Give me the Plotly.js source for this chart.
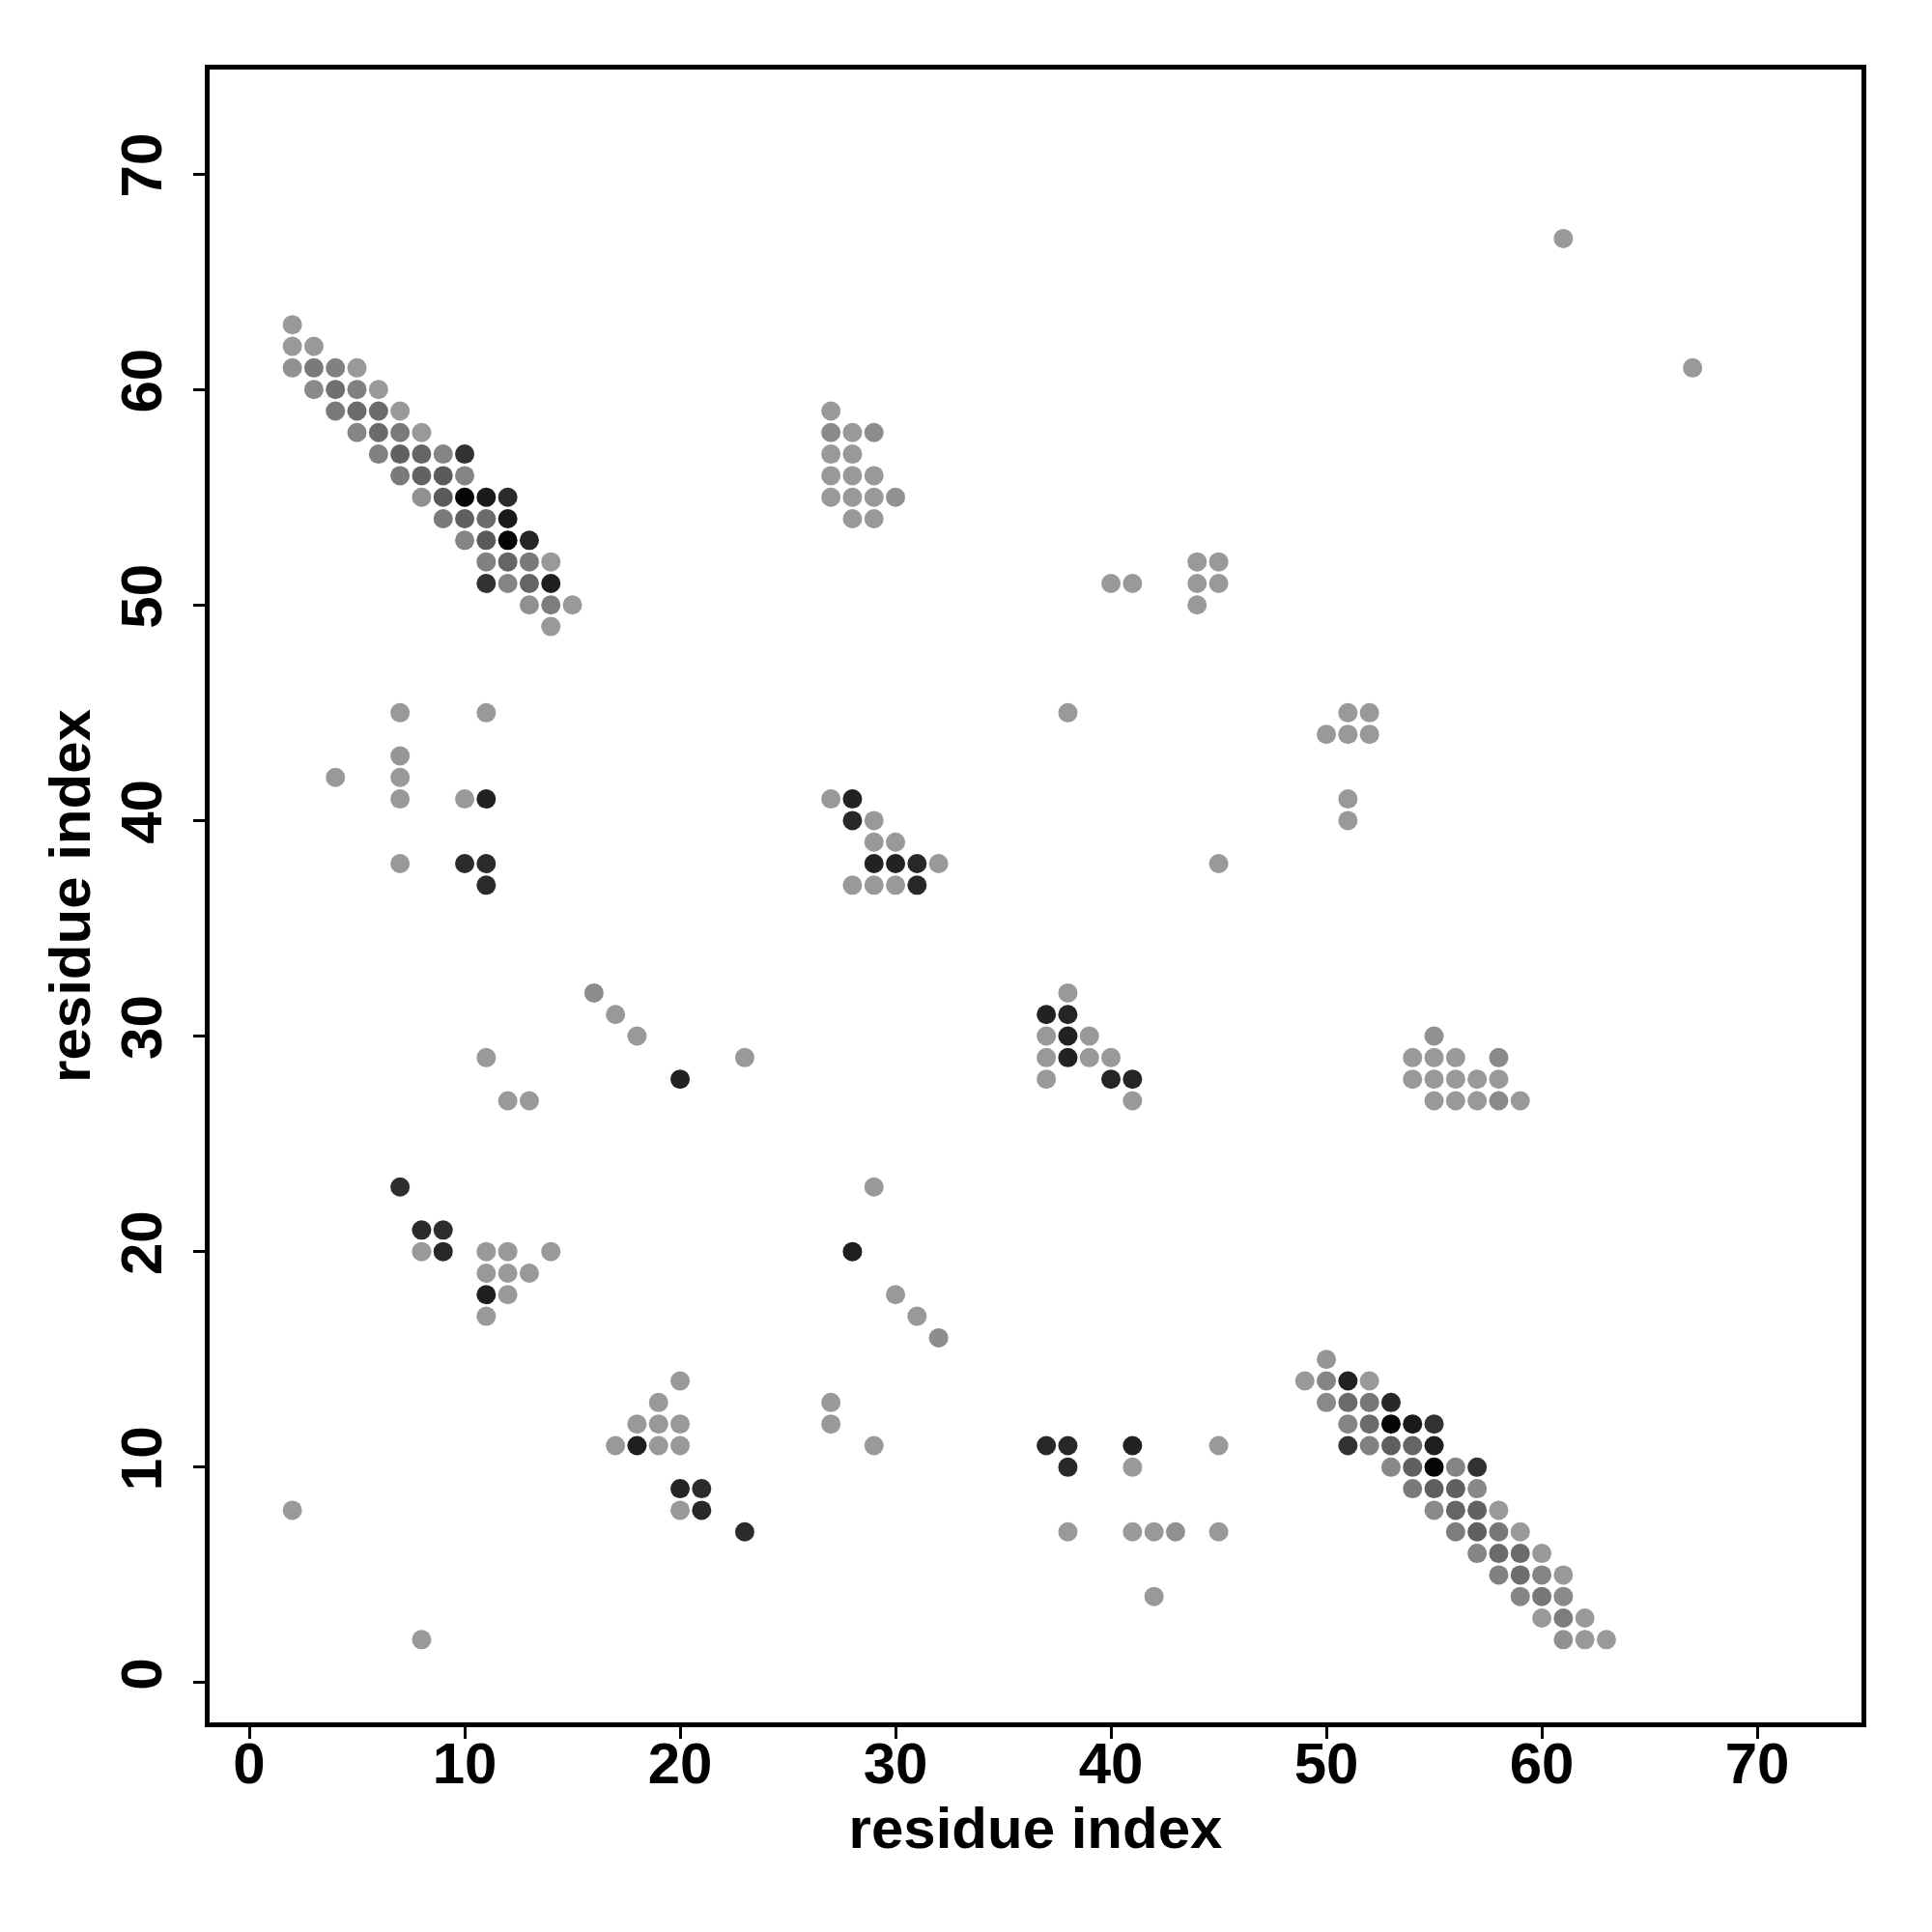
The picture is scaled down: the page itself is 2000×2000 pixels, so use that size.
<!DOCTYPE html>
<html>
<head>
<meta charset="utf-8">
<script src="https://cdn.plot.ly/plotly-3.0.1.min.js"></script>
<style>html,body{margin:0;padding:0;background:#fff;}</style>
</head>
<body>
<div id="chart" style="width:2000px;height:2000px;"></div>
<script>
// residue i (x), residue j (y), contact strength (0 = weak/light grey, 1 = strongest/black)
const resI = [
  // upper-left diagonal band
  2, 2,3, 2,3,4,5, 3,4,5,6, 4,5,6,7, 5,6,7,8, 6,7,8,9,10, 7,8,9,10, 8,9,10,11,12, 9,10,11,12, 10,11,12,13, 11,12,13,14, 11,12,13,14, 13,14,15, 14,
  // lower-right diagonal band
  50, 49,50,51,52, 50,51,52,53, 51,52,53,54,55, 51,52,53,54,55, 53,54,55,56,57, 54,55,56,57, 55,56,57,58, 56,57,58,59, 57,58,59,60, 58,59,60,61, 59,60,61, 60,61,62, 61,62,63,
  // upper middle block
  27, 27,28,29, 27,28, 27,28,29, 27,28,29,30, 28,29,
  40,41,44,45,44,45,44, 61,67, 38, 51,52,50,51,52,51,51,45,
  // left middle
  4,7,7,7,7,7,11,10,11,10,11,11,
  // centre block
  27,28,28,29,29,30,29,30,31,32,28,29,30,31,
  16,17,18,23,20,11,12,13,
  // right middle
  38,37,38,37,38,39,37,38,39,40,37,40,41,41,
  55,54,55,56,58,54,55,56,57,58,55,56,57,58,59,
  // lower left
  7,8,9,8,9,11,12,14,11,12,13,11,12,11,
  29,28,30,31,32,
  20,19,18,19,20,17,18,19,20,20,21,20,21,23,
  27,27,29, 2,8,
  // lower middle
  37,38,41,45,38,41,38,41,42,43,45,42
];
const resJ = [
  63, 62,62, 61,61,61,61, 60,60,60,60, 59,59,59,59, 58,58,58,58, 57,57,57,57,57, 56,56,56,56, 55,55,55,55,55, 54,54,54,54, 53,53,53,53, 52,52,52,52, 51,51,51,51, 50,50,50, 49,
  15, 14,14,14,14, 13,13,13,13, 12,12,12,12,12, 11,11,11,11,11, 10,10,10,10,10, 9,9,9,9, 8,8,8,8, 7,7,7,7, 6,6,6,6, 5,5,5,5, 4,4,4, 3,3,3, 2,2,2,
  59, 58,58,58, 57,57, 56,56,56, 55,55,55,55, 54,54,
  51,51,52,52,51,51,50, 67,61, 45, 45,45,44,44,44,41,40,38,
  42,45,43,42,41,38,45,41,41,38,38,37,
  41,41,40,40,39,39,38,38,38,38,37,37,37,37,
  32,31,30,29,28,29,27,27,
  32,31,31,30,30,30,29,29,29,29,28,28,28,27,
  30,29,29,29,29,28,28,28,28,28,27,27,27,27,27,
  23,21,21,20,20,20,20,20,19,19,19,18,18,17,
  23,20,18,17,16,
  14,13,12,12,12,11,11,11,11,9,9,8,8,7,
  13,12,11, 8,2,
  11,11,11,11,10,10,7,7,7,7,7,4
];
const strength = [
  0, 0,0, 0.05,0.2,0.16,0, 0.1,0.27,0.16,0, 0.2,0.3,0.3,0, 0.13,0.3,0.2,0, 0.16,0.37,0.34,0.13,0.67, 0.2,0.36,0.41,0.13, 0.06,0.41,0.97,0.83,0.72, 0.2,0.38,0.3,0.83, 0.13,0.41,0.97,0.76, 0.16,0.34,0.2,0, 0.67,0.13,0.34,0.8, 0.06,0.18,0, 0,
  0.02, 0,0.13,0.78,0, 0.1,0.3,0.22,0.74, 0.13,0.3,0.97,0.83,0.67, 0.67,0.16,0.38,0.34,0.8, 0.11,0.37,0.97,0.13,0.67, 0.2,0.38,0.37,0.11, 0.1,0.34,0.36,0, 0.18,0.38,0.22,0, 0.13,0.3,0.3,0, 0.16,0.28,0.13,0, 0.13,0.22,0.1, 0,0.18,0, 0.06,0,0,
  0, 0.1,0,0.08, 0,0, 0,0,0, 0,0,0,0.05, 0,0,
  0,0,0,0,0,0,0, 0,0, 0, 0,0,0,0,0,0,0,0,
  0,0,0.02,0,0,0,0,0,0.78,0.72,0.72,0.72,
  0,0.78,0.74,0,0,0,0.78,0.78,0.74,0,0,0,0,0.74,
  0.08,0,0,0,0.78,0,0,0,
  0,0.78,0.76,0,0.78,0,0,0.78,0,0,0,0.76,0.76,0,
  0.05,0,0,0,0.1,0,0,0,0,0,0,0,0,0.1,0,
  0.7,0.72,0.7,0,0.74,0,0,0,0,0,0,0.8,0,0,
  0,0.8,0,0,0.08,
  0,0,0,0,0,0,0.8,0,0,0.76,0.72,0,0.74,0.72,
  0,0,0, 0,0,
  0.74,0.74,0.78,0,0.74,0,0,0,0,0.05,0,0
];
const tickValues = [0, 10, 20, 30, 40, 50, 60, 70];
const axisLabel = "residue index";

const tickFont = {family: "Liberation Sans, Arial, sans-serif", size: 60, color: "#000", weight: "bold"};
const titleFont = {family: "Liberation Sans, Arial, sans-serif", size: 60, color: "#000", weight: "bold"};

const trace = {
  type: "scatter",
  mode: "markers",
  x: resI,
  y: resJ,
  marker: {
    size: 20,
    color: strength,
    cmin: 0,
    cmax: 1,
    colorscale: [[0, "rgb(153,153,153)"], [1, "rgb(0,0,0)"]],
    showscale: false,
    line: {width: 0}
  },
  hoverinfo: "x+y"
};

const axisCommon = {
  range: [-1.84, 74.84],
  tickvals: tickValues,
  ticktext: tickValues.map(String),
  ticks: "outside",
  ticklen: 12,
  tickwidth: 3,
  tickcolor: "#000",
  showline: true,
  linewidth: 5,
  linecolor: "#000",
  mirror: true,
  showgrid: false,
  zeroline: false,
  tickfont: tickFont
};

const layout = {
  width: 2000,
  height: 2000,
  margin: {l: 217, r: 73, t: 72, b: 217},
  paper_bgcolor: "#fff",
  plot_bgcolor: "#fff",
  showlegend: false,
  xaxis: Object.assign({}, axisCommon, {
    ticklabelstandoff: -26,
    title: {text: axisLabel, font: titleFont, standoff: 14}
  }),
  yaxis: Object.assign({}, axisCommon, {
    tickangle: -90,
    ticklabelstandoff: 9,
    title: {text: axisLabel, font: titleFont, standoff: 2}
  })
};

Plotly.newPlot("chart", [trace], layout, {displayModeBar: false, staticPlot: true});
</script>
</body>
</html>
